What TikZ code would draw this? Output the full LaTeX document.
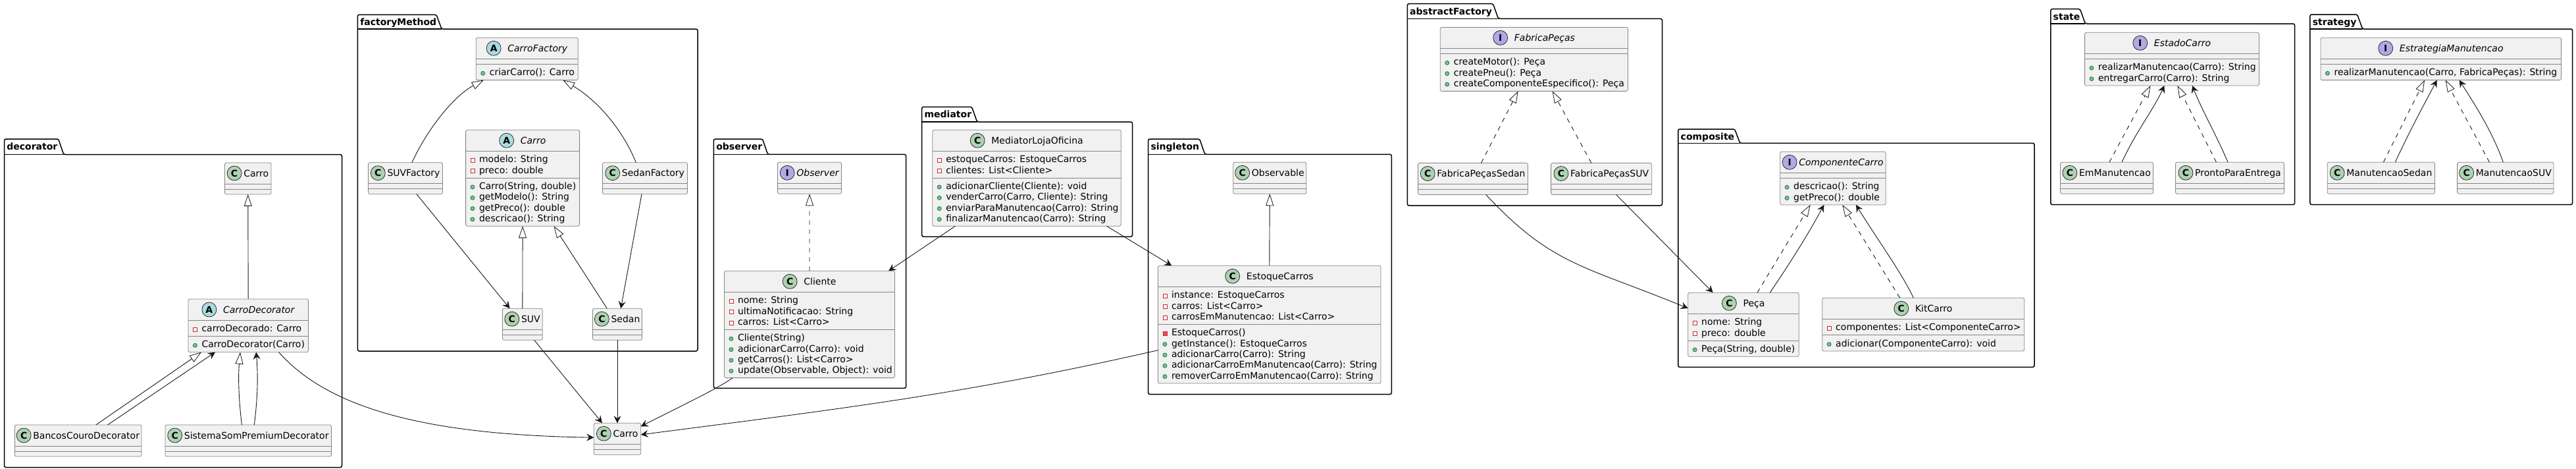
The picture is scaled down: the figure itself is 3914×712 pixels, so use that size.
\documentclass[tikz,border=0pt]{standalone}
\usepackage{fontspec}
\setmainfont{DejaVu Sans}
\usetikzlibrary{arrows.meta}

\definecolor{linecol}{HTML}{181818}
\definecolor{boxline}{HTML}{858585}
\definecolor{boxfill}{HTML}{F1F1F1}
\definecolor{kindCcol}{HTML}{ADD1B2}
\definecolor{kindAcol}{HTML}{A9DCDF}
\definecolor{kindIcol}{HTML}{B4A7E5}
\definecolor{visred}{HTML}{C82930}
\definecolor{visredfill}{HTML}{F24D5C}
\definecolor{visgreen}{HTML}{038048}
\definecolor{visgreenfill}{HTML}{84BE84}
\tikzset{
  classbox/.style={draw=boxline,line width=.8pt,fill=boxfill,rounded corners=2.5pt,inner sep=0pt,outer sep=0pt},
  classline/.style={draw=boxline,line width=.8pt},
  kindbase/.style={circle,draw=linecol,line width=.7pt,minimum size=22pt,inner sep=0pt,font=\fontsize{14}{14}\selectfont\bfseries},
  kindC/.style={kindbase,fill=kindCcol},
  kindA/.style={kindbase,fill=kindAcol},
  kindI/.style={kindbase,fill=kindIcol},
  titleC/.style={font=\fontsize{14}{16}\selectfont},
  titleA/.style={font=\fontsize{14}{16}\selectfont\itshape},
  titleI/.style={font=\fontsize{14}{16}\selectfont\itshape},
  member/.style={anchor=base west,inner sep=0pt,font=\fontsize{14}{16}\selectfont},
  visf/.style={rectangle,draw=visred,line width=.8pt,fill=white,minimum size=6pt,inner sep=0pt},
  visp/.style={rectangle,draw=visred,line width=.8pt,fill=visredfill,minimum size=6pt,inner sep=0pt},
  vism/.style={circle,draw=visgreen,line width=.8pt,fill=visgreenfill,minimum size=6pt,inner sep=0pt},
  pkgline/.style={draw=black,line width=1.5pt,fill=white,rounded corners=2.5pt},
  pkgtitle/.style={anchor=base west,inner sep=0pt,font=\fontsize{14}{16}\selectfont\bfseries},
  assoc/.style={draw=linecol,line width=.9pt,-{Stealth[length=11pt,width=11pt,inset=4pt]}},
  gen/.style={draw=linecol,line width=.9pt,-{Triangle[fill=white,length=18pt,width=12pt,line width=.8pt]}},
  real/.style={gen,dash pattern=on 7pt off 7pt},
}

\newcommand{\classnode}[9]{
  \gdef\nfields{0}\gdef\nmethods{0}
  \foreach \vis/\txt [count=\idx] in {#8} {\xdef\nfields{\idx}}
  \foreach \vis/\txt [count=\idx] in {#9} {\xdef\nmethods{\idx}}
  \pgfmathsetmacro{\classh}{48+16.33*\nfields+16.33*\nmethods}
  \pgfmathsetmacro{\divy}{40+16.33*\nfields}
  \node (#1) [classbox,minimum width=#4pt,minimum height=\classh pt] at ({#2+#4/2},{#3+\classh/2}) {};
  \draw[classline] ([yshift=-32pt]#1.north west) -- ([yshift=-32pt]#1.north east);
  \draw[classline] ([yshift=-\divy pt]#1.north west) -- ([yshift=-\divy pt]#1.north east);
  \node (#1-title) [anchor=base,inner sep=0pt,title#5] at ([shift={({(22+#6)/2},21)}]#1.north) {#7};
  \node (#1-circle) [kind#5] at ([shift={(-#6-11,-5)}]#1-title.base west) {#5};
  \foreach \vis/\txt [count=\idx] in {#8} {
    \pgfmathsetmacro{\liney}{49.5+16.33*(\idx-1)}
    \node (#1-f\idx) [member] at ([shift={(20.3,\liney)}]#1.north west) {\txt};
    \node (#1-fm\idx) [vis\vis] at ([shift={(10.4,\liney-3.5)}]#1.north west) {};
  }
  \foreach \vis/\txt [count=\idx] in {#9} {
    \pgfmathsetmacro{\liney}{\divy+17.5+16.33*(\idx-1)}
    \node (#1-m\idx) [member] at ([shift={(20.3,\liney)}]#1.north west) {\txt};
    \node (#1-mm\idx) [vis\vis] at ([shift={(10.4,\liney-3.5)}]#1.north west) {};
  }
}

\newcommand{\pkgframe}[7]{
  \draw[pkgline] (#2,#5) -- (#2,#3) -- ({#7-8},#3) -- (#7,#5) -- (#4,#5) -- (#4,#6) -- (#2,#6) -- cycle;
  \draw[draw=black,line width=1.5pt] (#2,#5) -- (#7,#5);
  \node (#1) [pkgtitle] at ({#2+3.7},{#3+16.3}) {#1};
}

\begin{document}
\begin{tikzpicture}[x=1pt,y=-1pt]
  \useasboundingbox (0,0) rectangle (3914,712);

  \pkgframe{decorator}{6.5}{211}{519.5}{234.5}{709.5}{96.7}
  \pkgframe{factoryMethod}{543.4}{22.3}{1060}{44}{533}{671}
  \pkgframe{observer}{1084.4}{211}{1376.6}{234.3}{589.3}{1166.5}
  \pkgframe{mediator}{1400.7}{162.3}{1720.5}{185}{359.3}{1484.6}
  \pkgframe{singleton}{1744.6}{211}{2114.3}{234.3}{598.7}{1830.7}
  \pkgframe{abstractFactory}{2138.3}{5.7}{2525.5}{28.3}{312}{2276.5}
  \pkgframe{composite}{2549.8}{196}{3091}{217.3}{557.3}{2643.7}
  \pkgframe{state}{3115.8}{13.7}{3486.6}{36}{310.7}{3168.4}
  \pkgframe{strategy}{3509.9}{22}{3908.6}{44}{310.7}{3589.6}

  \classnode{decCarro}{341.5}{247}{70.5}{C}{3}{Carro}{}{}
  \classnode{decCarroDecorator}{286}{454}{182.4}{A}{10}{CarroDecorator}{f/carroDecorado: Carro}{m/CarroDecorator(Carro)}
  \classnode{decBancos}{22.4}{645}{192.6}{C}{3}{BancosCouroDecorator}{}{}
  \classnode{decSistema}{251}{645}{252.4}{C}{3}{SistemaSomPremiumDecorator}{}{}

  \classnode{factCarroFactory}{723.3}{57.3}{155}{A}{10}{CarroFactory}{}{m/criarCarro(): Carro}
  \classnode{factCarro}{707.6}{197.3}{173}{A}{10}{Carro}{f/modelo: String,f/preco: double}
    {m/{Carro(String, double)},m/getModelo(): String,m/getPreco(): double,m/descricao(): String}
  \classnode{factSUVFactory}{559.5}{246.7}{112.9}{C}{3}{SUVFactory}{}{}
  \classnode{factSedanFactory}{915.4}{246.7}{129}{C}{3}{SedanFactory}{}{}
  \classnode{factSUV}{763.5}{468.3}{60.8}{C}{3}{SUV}{}{}
  \classnode{factSedan}{900.5}{468.3}{75}{C}{3}{Sedan}{}{}

  \classnode{carro}{902.3}{642.3}{71.4}{C}{3}{Carro}{}{}

  \classnode{obsObserver}{1181.5}{246.3}{97}{I}{3}{Observer}{}{}
  \classnode{obsCliente}{1100.5}{411.3}{258.9}{C}{10}{Cliente}{f/nome: String,f/ultimaNotificacao: String,f/carros: List<Carro>}
    {m/Cliente(String),m/adicionarCarro(Carro): void,m/getCarros(): List<Carro>,m/{update(Observable, Object): void}}

  \classnode{medLoja}{1416.8}{197.3}{286.5}{C}{10}{MediatorLojaOficina}{f/estoqueCarros: EstoqueCarros,f/clientes: List<Cliente>}
    {m/adicionarCliente(Cliente): void,m/{venderCarro(Carro, Cliente): String},m/enviarParaManutencao(Carro): String,m/finalizarManutencao(Carro): String}

  \classnode{sinObservable}{1873.8}{246.3}{110.9}{C}{3}{Observable}{}{}
  \classnode{sinEstoque}{1759.5}{403.3}{338.5}{C}{10}{EstoqueCarros}{f/instance: EstoqueCarros,f/carros: List<Carro>,f/carrosEmManutencao: List<Carro>}
    {p/EstoqueCarros(),m/getInstance(): EstoqueCarros,m/adicionarCarro(Carro): String,m/adicionarCarroEmManutencao(Carro): String,m/removerCarroEmManutencao(Carro): String}

  \classnode{absFabrica}{2188.3}{41.4}{285.2}{I}{10}{FabricaPeças}{}{m/createMotor(): Peça,m/createPneu(): Peça,m/createComponenteEspecifico(): Peça}
  \classnode{absSedan}{2154.6}{247.5}{166.8}{C}{3}{FabricaPeçasSedan}{}{}
  \classnode{absSUV}{2356.6}{247.5}{153.1}{C}{3}{FabricaPeçasSUV}{}{}

  \classnode{comComponente}{2704.7}{230.3}{160.6}{I}{3}{ComponenteCarro}{}{m/descricao(): String,m/getPreco(): double}
  \classnode{comPeca}{2564.7}{444.3}{168.6}{C}{10}{Peça}{f/nome: String,f/preco: double}{m/{Peça(String, double)}}
  \classnode{comKit}{2768.7}{452.3}{307}{C}{10}{KitCarro}{f/componentes: List<ComponenteCarro>}{m/adicionar(ComponenteCarro): void}

  \classnode{staEstado}{3167.6}{49.3}{264.8}{I}{10}{EstadoCarro}{}{m/realizarManutencao(Carro): String,m/entregarCarro(Carro): String}
  \classnode{staEm}{3130.5}{246.3}{140.9}{C}{3}{EmManutencao}{}{}
  \classnode{staPronto}{3305.5}{246.3}{164.9}{C}{3}{ProntoParaEntrega}{}{}

  \classnode{strEstrategia}{3526}{57.3}{365.5}{I}{10}{EstrategiaManutencao}{}{m/{realizarManutencao(Carro, FabricaPeças): String}}
  \classnode{strSedan}{3536.2}{246.3}{163.3}{C}{3}{ManutencaoSedan}{}{}
  \classnode{strSUV}{3733.6}{246.3}{146.4}{C}{3}{ManutencaoSUV}{}{}

  \foreach \from/\to in {decCarroDecorator/decCarro,factSUV/factCarro,sinEstoque/sinObservable}
    \draw[gen] (\from.north) -- (\to.south);
  \draw[real] (obsCliente.north) -- (obsObserver.south);
  \draw[assoc] (factSedan.south) -- (carro.north);

  \draw[gen] ([xshift=27.1]decBancos.north) -- ([xshift=-71.2]decCarroDecorator.south);
  \draw[assoc] ([xshift=44.9]decBancos.north) -- ([xshift=-50.2]decCarroDecorator.south);
  \draw[gen] ([xshift=-9.8]decSistema.north) .. controls +(-5.4,-45) and +(-3,34.4) .. ([xshift=-12.2]decCarroDecorator.south);
  \draw[assoc] ([xshift=9.1]decSistema.north) .. controls +(5.7,-45) and +(2.8,34.4) .. ([xshift=12]decCarroDecorator.south);
  \draw[assoc] ([xshift=46.4]decCarroDecorator.south) .. controls +(76,86) and +(-253,-4) .. ([yshift=2.1]carro.west);

  \draw[gen] ([xshift=10]factSUVFactory.north) .. controls +(24,-52) and +(-45,24) .. ([xshift=-66]factCarroFactory.south);
  \draw[gen] ([xshift=-13.6]factSedanFactory.north) .. controls +(-21,-52) and +(50,29) .. ([xshift=54.5]factCarroFactory.south);
  \draw[assoc] ([xshift=17]factSUVFactory.south) -- ([xshift=-19.3]factSUV.north);
  \draw[assoc] ([xshift=-4.9]factSedanFactory.south) -- ([xshift=5.3]factSedan.north);
  \draw[gen] ([xshift=-15.7]factSedan.north) -- ([xshift=47.4]factCarro.south);
  \draw[assoc] ([xshift=17.8]factSUV.south) -- ([xshift=-23]carro.north);

  \draw[assoc] ([xshift=-108.7]medLoja.south) -- ([xshift=120.2]obsCliente.north);
  \draw[assoc] ([xshift=121.5]medLoja.south) -- ([xshift=-148.5]sinEstoque.north);
  \draw[assoc] ([xshift=-116.7]obsCliente.south) .. controls +(-24,17) and +(65,-33) .. ([yshift=19]carro.east);
  \draw[assoc] ([yshift=-39]sinEstoque.west) .. controls +(-293,67) and +(293,-38) .. ([yshift=6.4]carro.east);

  \draw[real] ([xshift=12.5]absSedan.north) -- ([xshift=-24.3]absFabrica.south);
  \draw[real] ([xshift=-15.3]absSUV.north) -- ([xshift=27.8]absFabrica.south);
  \draw[assoc] ([xshift=19.7]absSedan.south) .. controls +(101,108) and +(-158,-65) .. ([yshift=24.8]comPeca.west);
  \draw[assoc] ([xshift=22.4]absSUV.south) -- ([xshift=-46.3]comPeca.north);

  \draw[real] ([xshift=21]comPeca.north) -- ([xshift=-34.3]comComponente.south);
  \draw[assoc] ([xshift=40.3]comPeca.north) .. controls +(21,-31) and +(-26,49) .. ([xshift=-13.7]comComponente.south);
  \draw[real] ([xshift=-35.5]comKit.north) -- ([xshift=14.3]comComponente.south);
  \draw[assoc] ([xshift=-14.9]comKit.north) .. controls +(-17,-37) and +(30,49) .. ([xshift=35]comComponente.south);

  \draw[real] ([xshift=3.9]staEm.north) -- ([xshift=-32.5]staEstado.south);
  \draw[assoc] ([xshift=23]staEm.north) .. controls +(21,-46) and +(-16,36) .. ([xshift=-11.6]staEstado.south);
  \draw[real] ([xshift=-20.5]staPronto.north) -- ([xshift=8.6]staEstado.south);
  \draw[assoc] ([xshift=-2.8]staPronto.north) .. controls +(-20,-46) and +(14,36) .. ([xshift=31]staEstado.south);

  \draw[real] ([xshift=3.5]strSedan.north) -- ([xshift=-24.75]strEstrategia.south);
  \draw[assoc] ([xshift=21.4]strSedan.north) .. controls +(26,-56) and +(-15,29) .. ([xshift=-6.2]strEstrategia.south);
  \draw[real] ([xshift=-24.4]strSUV.north) -- ([xshift=7]strEstrategia.south);
  \draw[assoc] ([xshift=-3.5]strSUV.north) .. controls +(-18,-51) and +(18,29) .. ([xshift=28]strEstrategia.south);
\end{tikzpicture}
\end{document}
